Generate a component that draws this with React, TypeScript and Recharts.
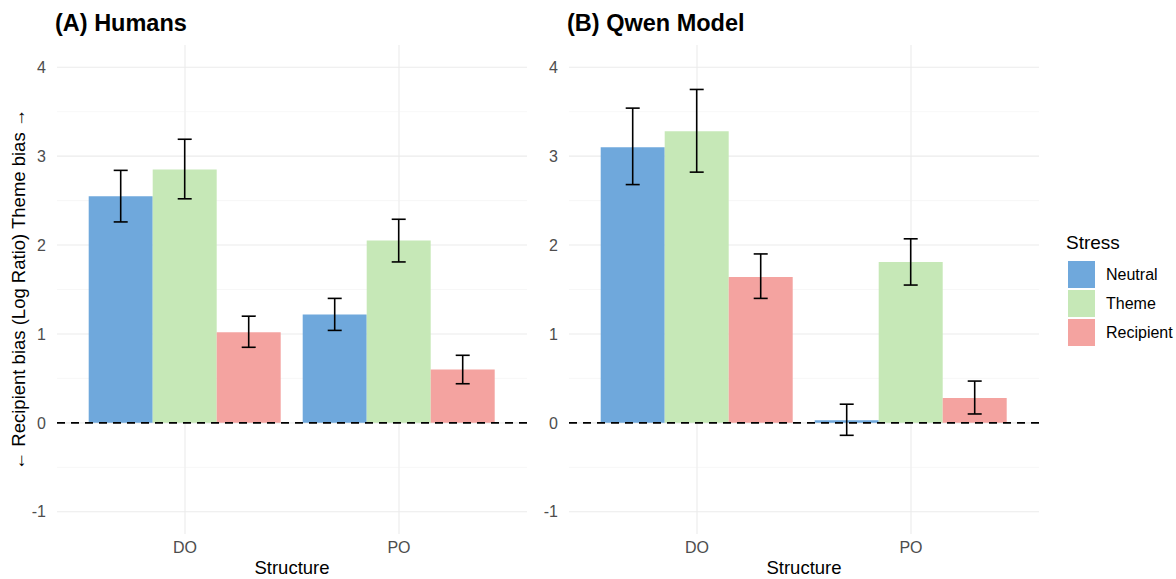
import { BarChart, Bar, XAxis, YAxis, CartesianGrid, ErrorBar, ReferenceLine } from 'recharts'

const structures = ['DO', 'PO']
const stressLevels = ['Neutral', 'Theme', 'Recipient']
const stressColors = ['#6fa8dc', '#c6e8b7', '#f4a3a0']
const yTicks = [-1, 0, 1, 2, 3, 4]
const yMinor = [-0.5, 0.5, 1.5, 2.5, 3.5]

// rows = stress level, columns = structure (DO, PO)
const humansMean = [
  [2.55, 1.22],
  [2.85, 2.05],
  [1.02, 0.6],
]
const humansLower = [
  [2.26, 1.04],
  [2.52, 1.81],
  [0.85, 0.44],
]
const humansUpper = [
  [2.84, 1.4],
  [3.19, 2.29],
  [1.2, 0.76],
]

const qwenMean = [
  [3.1, 0.03],
  [3.28, 1.81],
  [1.64, 0.28],
]
const qwenLower = [
  [2.68, -0.14],
  [2.82, 1.55],
  [1.4, 0.1],
]
const qwenUpper = [
  [3.54, 0.21],
  [3.75, 2.07],
  [1.9, 0.47],
]

const FONT = '"Liberation Sans", Arial, Helvetica, sans-serif'

function buildRows(mean: number[][], lower: number[][], upper: number[][]) {
  return structures.map((s, i) => {
    const row: Record<string, any> = { structure: s }
    stressLevels.forEach((k, j) => {
      row[k] = mean[j][i]
      row[k + '_err'] = [mean[j][i] - lower[j][i], upper[j][i] - mean[j][i]]
    })
    return row
  })
}

const CHART_W = 527
const CHART_H = 579

function Panel({ data, left }: { data: Record<string, any>[]; left: number }) {
  return (
    <div style={{ position: 'absolute', left, top: 0 }}>
      <BarChart
        width={CHART_W}
        height={CHART_H}
        data={data}
        margin={{ top: 45, right: 0, bottom: 0, left: 0 }}
        barCategoryGap={10.7}
        barGap={0}
      >
        <CartesianGrid horizontal={false} verticalValues={structures} stroke="#ebebeb" strokeWidth={1.1} />
        <CartesianGrid vertical={false} horizontalValues={yMinor} stroke="#f2f2f2" strokeWidth={0.6} />
        <CartesianGrid vertical={false} horizontalValues={yTicks} stroke="#ebebeb" strokeWidth={1.1} />
        <XAxis
          dataKey="structure"
          height={45}
          padding={{ left: 21, right: 21 }}
          axisLine={false}
          tickLine={false}
          tickSize={0}
          tickMargin={8}
          tick={{ fill: '#4d4d4d', fontSize: 16, fontFamily: FONT }}
        />
        <YAxis
          type="number"
          width={57}
          domain={[-1.25, 4.25]}
          ticks={yTicks}
          allowDataOverflow
          axisLine={false}
          tickLine={false}
          tickSize={0}
          tickMargin={11}
          tick={{ fill: '#4d4d4d', fontSize: 16, fontFamily: FONT }}
        />
        {stressLevels.map((k, j) => (
          <Bar key={k} dataKey={k} fill={stressColors[j]} isAnimationActive={false}>
            <ErrorBar dataKey={k + '_err'} width={7} stroke="#000" strokeWidth={1.6} isAnimationActive={false} />
          </Bar>
        ))}
        <ReferenceLine y={0} stroke="#000" strokeWidth={1.6} strokeDasharray="8 6" />
      </BarChart>
    </div>
  )
}

export default function App() {
  const humans = buildRows(humansMean, humansLower, humansUpper)
  const qwen = buildRows(qwenMean, qwenLower, qwenUpper)
  return (
    <div
      style={{
        position: 'absolute',
        left: 0,
        top: 0,
        width: 1176,
        height: 579,
        background: '#fff',
        fontFamily: FONT,
      }}
    >
      <Panel data={humans} left={0} />
      <Panel data={qwen} left={512} />
      <svg
        width={1176}
        height={579}
        style={{ position: 'absolute', left: 0, top: 0, pointerEvents: 'none' }}
        fontFamily={FONT}
      >
        <text x={55} y={31} fontSize={23.5} fontWeight="bold" fill="#000">
          (A) Humans
        </text>
        <text x={567} y={31} fontSize={23.5} fontWeight="bold" fill="#000">
          (B) Qwen Model
        </text>
        <text x={292} y={574} fontSize={18.5} textAnchor="middle" fill="#000">
          Structure
        </text>
        <text x={804} y={574} fontSize={18.5} textAnchor="middle" fill="#000">
          Structure
        </text>
        <text
          x={25}
          y={289.5}
          fontSize={18.5}
          textAnchor="middle"
          fill="#000"
          transform="rotate(-90 25 289.5)"
        >
          ← Recipient bias (Log Ratio) Theme bias →
        </text>
        <text x={1066} y={249} fontSize={19} fill="#000">
          Stress
        </text>
        {stressLevels.map((k, j) => (
          <g key={k}>
            <rect x={1068} y={261 + j * 29} width={27} height={27} fill={stressColors[j]} />
            <text x={1106} y={280 + j * 29} fontSize={16} fill="#000">
              {k}
            </text>
          </g>
        ))}
      </svg>
    </div>
  )
}
